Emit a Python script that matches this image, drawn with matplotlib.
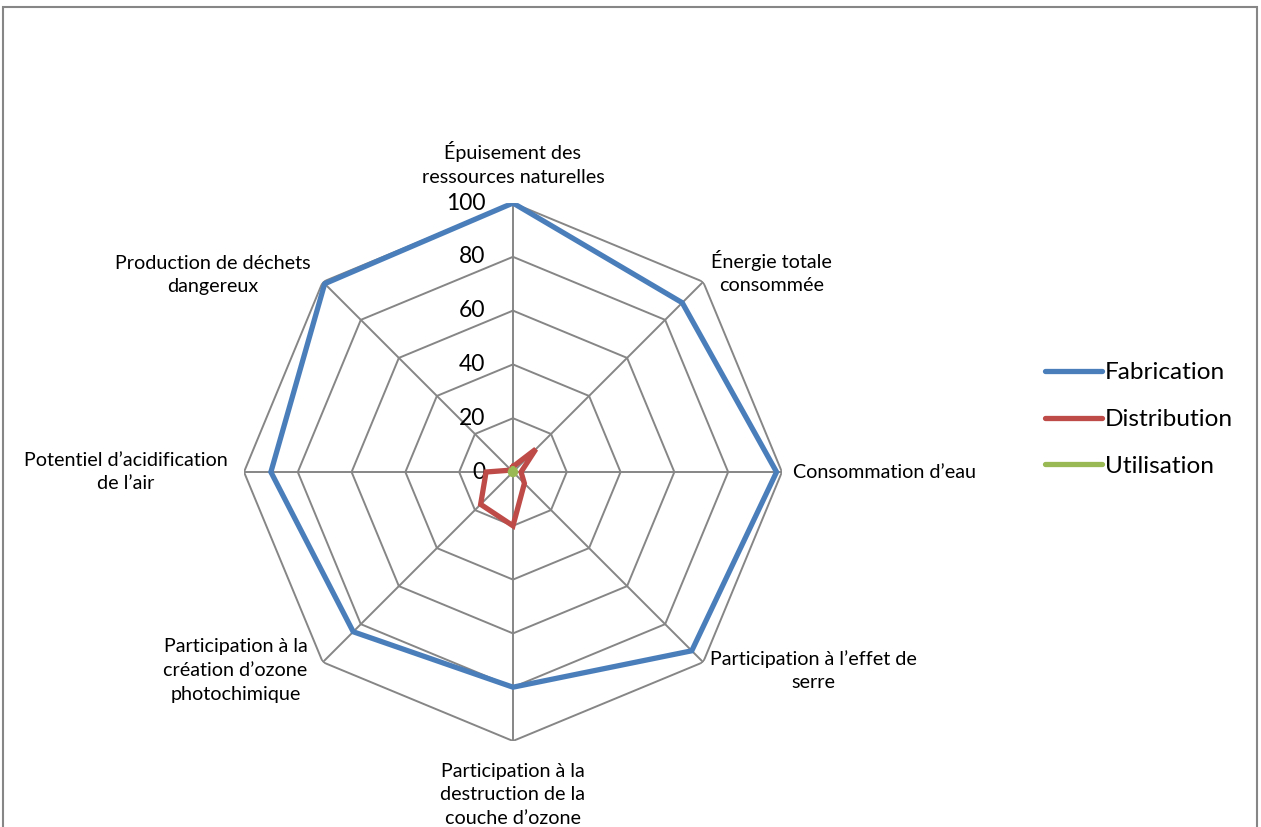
import numpy as np
import matplotlib
matplotlib.use("Agg")
import matplotlib.pyplot as plt
from matplotlib.patches import Rectangle

plt.rcParams["font.family"] = ["Lato", "DejaVu Sans"]

categories = [
    "Épuisement des\nressources naturelles",
    "Énergie totale\nconsommée",
    "Consommation d’eau",
    "Participation à l’effet de\nserre",
    "Participation à la\ndestruction de la\ncouche d’ozone",
    "Participation à la\ncréation d’ozone\nphotochimique",
    "Potentiel d’acidification\nde l’air",
    "Production de déchets\ndangereux",
]
fabrication = [100, 89, 98, 94, 80, 84, 90, 99]
distribution = [2, 12, 3, 6, 20, 17, 10, 1]
utilisation = [1, 1, 1, 1, 1, 1, 1, 1]
rticks = [0, 20, 40, 60, 80, 100]

grid_col = "#868686"
series = [
    ("Fabrication", fabrication, "#4A7EBB"),
    ("Distribution", distribution, "#BE4B48"),
    ("Utilisation", utilisation, "#98B954"),
]

n = len(categories)
theta = np.linspace(0, 2 * np.pi, n, endpoint=False)
theta_c = np.append(theta, theta[0])

fig = plt.figure(figsize=(12.61, 8.27), dpi=100)
ax = fig.add_axes([0.1935, 0.104, 0.4266, 0.6505], projection="polar")
ax.set_theta_zero_location("N")
ax.set_theta_direction(-1)
ax.set_ylim(0, 100)
ax.grid(False)
ax.spines["polar"].set_visible(False)
ax.set_xticks([])
ax.set_yticks([])
ax.patch.set_visible(False)

# polygon grid + spokes
for r in rticks[1:]:
    ax.plot(theta_c, [r] * (n + 1), color=grid_col, lw=1.4, zorder=1)
for t in theta:
    ax.plot([t, t], [0, 100], color=grid_col, lw=1.4, zorder=1)

for r in rticks:
    ax.annotate(str(r), (0, r), xytext=(-20, 0), textcoords="offset points",
                ha="right", va="center", fontsize=16.5, color="black")

lines = []
for name, vals, col in series:
    ln, = ax.plot(theta_c, vals + vals[:1], color=col, lw=3.8,
                  solid_joinstyle="miter", label=name, zorder=3)
    lines.append(ln)

# label placement (offset in points, alignment)
lab_pos = [
    ((0, 12.5), "center", "bottom"),
    ((6, 7), "left", "center"),
    ((8, 0), "left", "center"),
    ((5, -6), "left", "center"),
    ((0, -15.5), "center", "top"),
    ((-11, -6), "right", "center"),
    ((-12, 0), "right", "center"),
    ((-9, 5), "right", "center"),
]
for t, lab, (off, ha, va) in zip(theta, categories, lab_pos):
    ax.annotate(lab, (t, 100), xytext=off, textcoords="offset points",
                ha=ha, va=va, multialignment="center", fontsize=14.2,
                linespacing=1.47, annotation_clip=False)

leg = fig.legend(handles=lines, loc="center left",
                 bbox_to_anchor=(0.811, 0.4925), frameon=False, fontsize=17.6,
                 handlelength=2.34, handletextpad=0.12, labelspacing=1.05)
for h in leg.legend_handles:
    h.set_solid_capstyle("round")

fig.patches.append(Rectangle((0.0024, -0.05), 0.9944, 0.9915 + 0.05,
                             transform=fig.transFigure, fill=False,
                             edgecolor=grid_col, lw=1.5))

fig.savefig("out.png", dpi=100)
